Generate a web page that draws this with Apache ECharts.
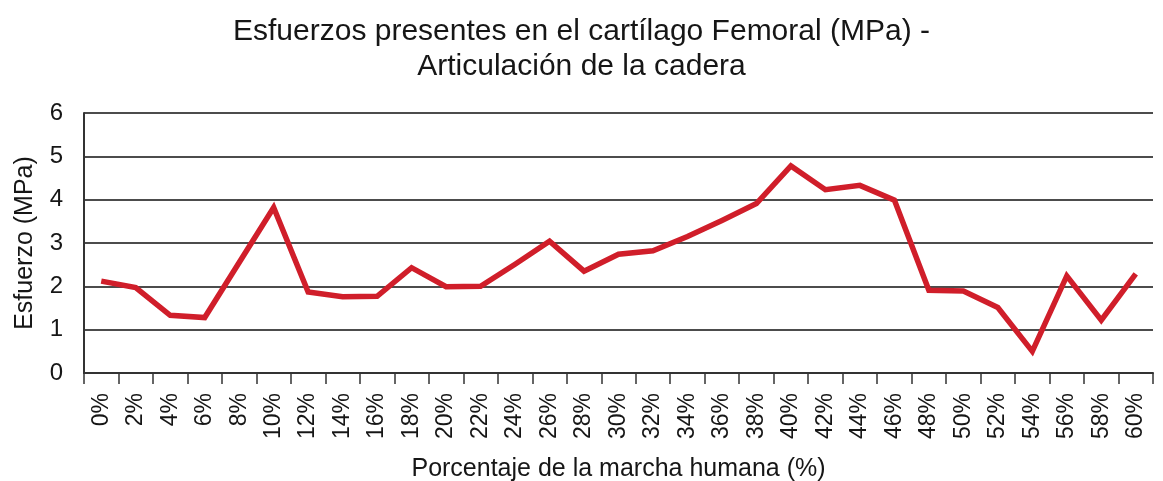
<!DOCTYPE html>
<html>
<head>
<meta charset="utf-8">
<style>
  html, body { margin: 0; padding: 0; background: #fff; }
  #chart { width: 1163px; height: 481px; }
</style>
<script src="https://cdn.jsdelivr.net/npm/echarts@6/dist/echarts.min.js"></script>
</head>
<body>
<div id="chart"></div>
<script>
const categories = ['0%', '2%', '4%', '6%', '8%', '10%', '12%', '14%', '16%', '18%',
  '20%', '22%', '24%', '26%', '28%', '30%', '32%', '34%', '36%', '38%',
  '40%', '42%', '44%', '46%', '48%', '50%', '52%', '54%', '56%', '58%', '60%']
const esfuerzo = [2.12, 1.97, 1.33, 1.28, 2.55, 3.82, 1.87, 1.76, 1.77, 2.43,
  1.99, 2.0, 2.51, 3.04, 2.35, 2.74, 2.82, 3.15, 3.52, 3.91,
  4.78, 4.23, 4.33, 3.99, 1.91, 1.89, 1.51, 0.5, 2.24, 1.22, 2.29]

const font = 'Liberation Sans, Arial, sans-serif'
const textColor = '#161616'
const chart = echarts.init(document.getElementById('chart'))

chart.setOption({
  animation: false,
  title: {
    text: 'Esfuerzos presentes en el cartílago Femoral (MPa) -\nArticulación de la cadera',
    left: 'center',
    top: 9,
    textStyle: {
      fontFamily: font,
      fontWeight: 'normal',
      fontSize: 30,
      lineHeight: 35,
      color: textColor
    }
  },
  grid: {
    left: 84,
    right: 10,
    top: 113,
    bottom: 108,
    // keep the plot box fixed, names may sit near the edge
    outerBoundsMode: 'none',
    containLabel: false
  },
  xAxis: {
    type: 'category',
    data: categories,
    boundaryGap: true,
    name: 'Porcentaje de la marcha humana (%)',
    nameLocation: 'middle',
    nameGap: 84,
    nameTextStyle: { fontFamily: font, fontSize: 25, color: textColor },
    axisLine: { lineStyle: { color: '#333', width: 2 } },
    axisTick: { show: true, length: 11, lineStyle: { color: '#333', width: 1.5 } },
    axisLabel: {
      rotate: 90,
      interval: 0,
      margin: 20,
      fontFamily: font,
      fontSize: 23,
      color: textColor
    }
  },
  yAxis: {
    type: 'value',
    min: 0,
    max: 6,
    interval: 1,
    name: 'Esfuerzo (MPa)',
    nameLocation: 'middle',
    nameGap: 46,
    nameTextStyle: { fontFamily: font, fontSize: 25, color: textColor },
    axisLine: { show: true, lineStyle: { color: '#333', width: 2 } },
    axisTick: { show: false },
    axisLabel: { fontFamily: font, fontSize: 24, color: textColor, margin: 21 },
    splitLine: { lineStyle: { color: '#111', width: 1.5 } }
  },
  series: [
    {
      name: 'Esfuerzo',
      type: 'line',
      data: esfuerzo,
      symbol: 'none',
      lineStyle: { color: '#d01e2a', width: 5.5, join: 'miter' }
    }
  ]
})
</script>
</body>
</html>
